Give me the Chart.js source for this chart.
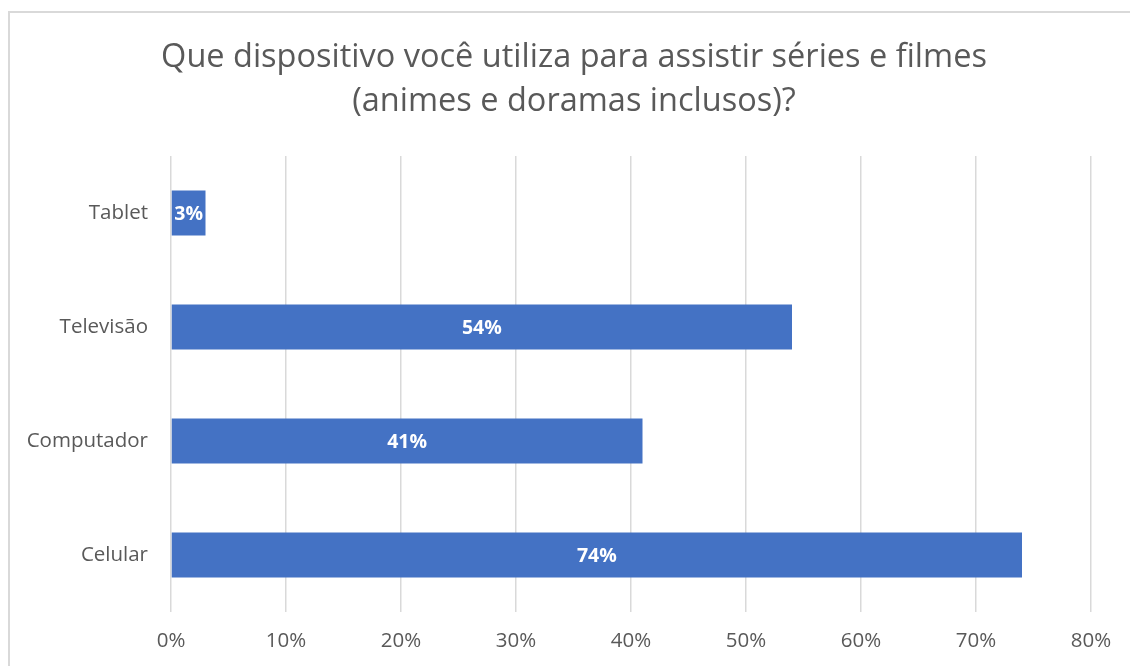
<!DOCTYPE html>
<html>
<head>
<meta charset="utf-8">
<script src="https://cdn.jsdelivr.net/npm/chart.js@4/dist/chart.umd.min.js"></script>
<style>
  html, body { margin: 0; padding: 0; background: #fff; }
  #wrap { position: relative; width: 1130px; height: 666px; overflow: hidden; }
  #frame { position: absolute; left: 8px; top: 11px; width: 1140px; height: 680px;
           border: 2px solid #d9d9d9; box-sizing: border-box; }
  canvas { position: absolute; left: 0; top: 0; }
</style>
</head>
<body>
<div id="wrap">
  <div id="frame"></div>
  <canvas id="chart" width="1130" height="666"></canvas>
</div>
<script>
// Que dispositivo você utiliza... — horizontal bar, percent values

const categories = ['Tablet', 'Televisão', 'Computador', 'Celular'];
const values = [3, 54, 41, 74];
const xTicks = [0, 10, 20, 30, 40, 50, 60, 70, 80];
const titleLines = ['Que dispositivo você utiliza para assistir séries e filmes', '(animes e doramas inclusos)?'];

const FONT = "'Open Sans', 'Noto Sans', sans-serif";
const GREY = '#595959';

// title drawn centred on the whole frame, not just the chart box
const titleText = {
  id: 'titleText',
  afterDraw(chart) {
    const ctx = chart.ctx;
    ctx.save();
    ctx.fillStyle = GREY;
    ctx.font = `32.5px ${FONT}`;
    ctx.textAlign = 'center';
    ctx.textBaseline = 'middle';
    titleLines.forEach((t, i) => ctx.fillText(t, 574, 58 + i * 44));
    ctx.restore();
  }
};

// white bold labels centered in each bar
const barLabels = {
  id: 'barLabels',
  afterDatasetsDraw(chart) {
    const ctx = chart.ctx;
    const meta = chart.getDatasetMeta(0);
    ctx.save();
    ctx.fillStyle = '#ffffff';
    ctx.font = `bold 19.5px ${FONT}`;
    ctx.textAlign = 'center';
    ctx.textBaseline = 'middle';
    meta.data.forEach((bar, i) => {
      const cx = (bar.x + bar.base) / 2;
      ctx.fillText(values[i] + '%', cx, bar.y + 1);
    });
    ctx.restore();
  }
};

new Chart(document.getElementById('chart'), {
  type: 'bar',
  data: {
    labels: categories,
    datasets: [{
      data: values,
      backgroundColor: '#4472c4',
      borderWidth: 0,
      barPercentage: 0.395,
      categoryPercentage: 1,
    }]
  },
  options: {
    indexAxis: 'y',
    responsive: false,
    animation: false,
    layout: { padding: { top: 156, right: 39, bottom: 0, left: 0 } },
    plugins: {
      legend: { display: false },
      tooltip: { enabled: false },
      title: { display: false },
    },
    scales: {
      x: {
        min: 0,
        max: 80,
        afterBuildTicks: s => { s.ticks = xTicks.map(v => ({ value: v })); },
        afterFit: s => { s.height = 54; },
        grid: { color: '#d9d9d9', lineWidth: 1.5, drawTicks: false },
        border: { display: false },
        ticks: {
          padding: 17,
          color: GREY,
          font: { family: FONT, size: 20.5 },
          callback: v => v + '%',
        },
      },
      y: {
        afterFit: s => { s.width = 171; },
        grid: { display: false, drawTicks: false },
        border: { display: false },
        ticks: {
          padding: 23,
          color: GREY,
          font: { family: FONT, size: 20.5 },
        },
      },
    },
  },
  plugins: [barLabels, titleText],
});
</script>
</body>
</html>
